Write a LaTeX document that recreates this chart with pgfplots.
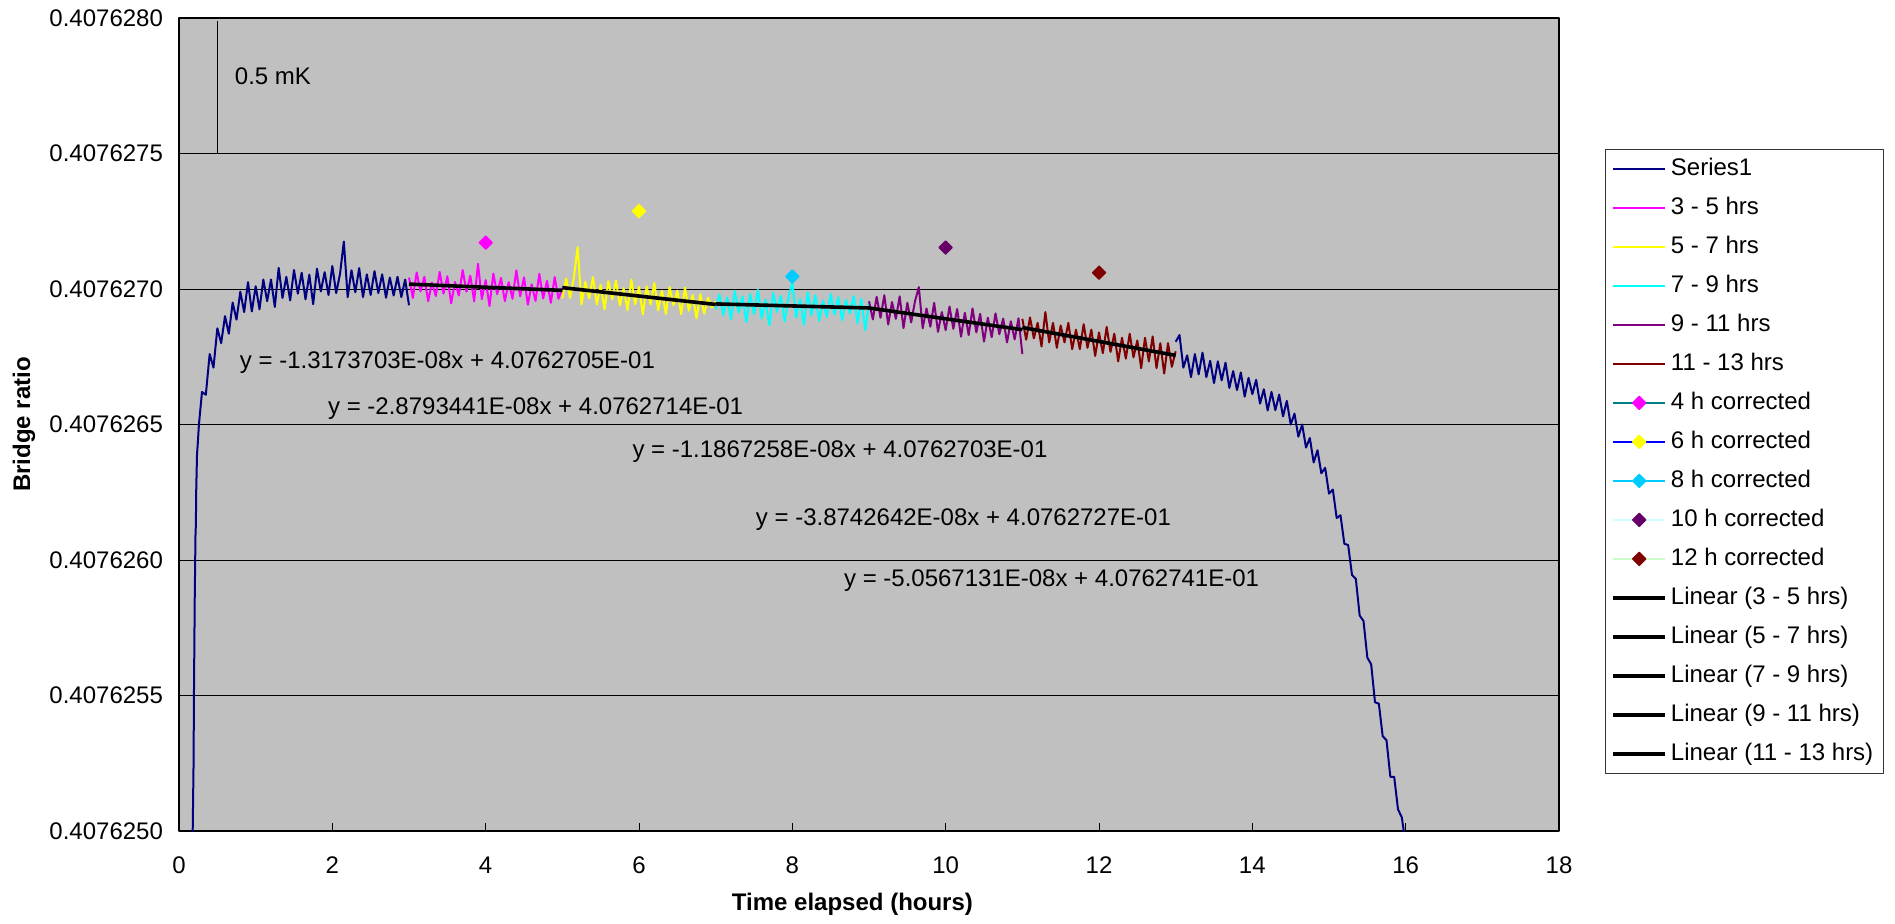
\documentclass[border=0pt]{standalone}
\usepackage{fontspec}
\setmainfont{Liberation Sans}
\usepackage{pgfplots}
\pgfplotsset{compat=1.18}
\definecolor{plotgray}{RGB}{192,192,192}
\definecolor{sNavy}{RGB}{0,0,128}
\definecolor{sMag}{RGB}{255,0,255}
\definecolor{sYel}{RGB}{255,255,0}
\definecolor{sCya}{RGB}{0,255,255}
\definecolor{sPur}{RGB}{128,0,128}
\definecolor{sRed}{RGB}{128,0,0}
\definecolor{lTeal}{RGB}{0,128,128}
\definecolor{lBlue}{RGB}{0,0,255}
\definecolor{lSky}{RGB}{0,204,255}
\definecolor{lLCyan}{RGB}{204,255,255}
\definecolor{lLGreen}{RGB}{204,255,204}
\definecolor{mDPur}{RGB}{102,0,102}

\begin{document}
% y values in units of 1e-7 above 0.4076250 (bridge ratio)
\begin{tikzpicture}[font=\fontsize{12}{14.4}\selectfont]
\useasboundingbox (-89.5pt,-46pt) rectangle (858pt,415.5pt);
\begin{axis}[
  at={(0,0)}, anchor=south west,
  scale only axis, width=690pt, height=406.5pt,
  xmin=0, xmax=18, ymin=0, ymax=30,
  xtick={0,2,...,18},
  ytick={0,5,...,30},
  yticklabels={0.4076250,0.4076255,0.4076260,0.4076265,0.4076270,0.4076275,0.4076280},
  /pgf/number format/assume math mode=true,
  tick align=inside, major tick length=4pt,
  xtick pos=bottom, ytick pos=left,
  tick style={black, line width=0.5pt},
  ymajorgrids, major grid style={black, line width=0.5pt},
  axis line style={black, line width=0.6pt},
  axis background/.style={fill=plotgray},
  xticklabel style={anchor=center, yshift=-17pt},
  yticklabel style={anchor=east, xshift=-4.5pt},
  xlabel={\bfseries Time elapsed (hours)},
  ylabel={\bfseries Bridge ratio},
  xlabel style={at={(axis description cs:0.488,-0.0898)}, anchor=center},
  ylabel style={at={(axis description cs:-0.1123,0.5)}, anchor=center},
  legend cell align=left,
  legend style={at={(1.0333,0.8389)}, anchor=north west, draw=black!80,
    fill=white, inner xsep=3pt, inner ysep=2pt,
    row sep=4pt,
    nodes={inner sep=2pt, text height=9pt, text depth=2.5pt}},
  legend image code/.code={\draw[mark repeat=2,mark phase=2,#1]
    plot coordinates {(0pt,0pt) (13pt,0pt) (26pt,0pt)};},
  line join=round,
]
% Series1 (rise 0-3 h, then fall 13-16 h)
\addplot[sNavy, line width=1pt, unbounded coords=jump] coordinates {
(0.17,-2)(0.19,2.5)(0.195,5.0)(0.205,8.5)(0.215,10.9)(0.22,11.3)(0.225,12.6)
(0.235,13.9)(0.245,14.3)(0.26,15.0)(0.28,15.6)
(0.30,16.20)(0.35,16.10)(0.40,17.60)(0.45,17.10)(0.50,18.55)(0.55,18.00)
(0.60,19.00)(0.65,18.35)(0.70,19.50)(0.75,18.87)(0.80,19.90)(0.85,19.15)
(0.90,20.25)(0.95,19.17)(1.00,20.10)(1.05,19.25)(1.10,20.35)(1.15,19.55)
(1.20,20.35)(1.25,19.34)(1.30,20.78)(1.35,19.67)(1.40,20.45)(1.45,19.58)
(1.50,20.70)(1.55,19.83)(1.60,20.60)(1.65,19.62)(1.70,20.53)(1.75,19.44)
(1.80,20.75)(1.85,19.91)(1.90,20.62)(1.95,19.78)(2.00,20.85)(2.05,19.85)
(2.10,20.55)(2.15,21.75)(2.20,19.70)(2.25,20.69)(2.30,19.88)(2.35,20.77)
(2.40,19.70)(2.45,20.54)(2.50,19.78)(2.55,20.66)(2.60,19.85)(2.65,20.54)
(2.70,19.68)(2.75,20.42)(2.80,19.76)(2.85,20.45)(2.90,19.70)(2.95,20.35)
(3.00,19.40)(3.02,nan)
(13.00,18.05)(13.05,18.30)(13.10,17.10)(13.15,17.55)(13.20,16.75)(13.25,17.60)
(13.30,16.85)(13.35,17.65)(13.40,16.75)(13.45,17.35)(13.50,16.53)(13.55,17.33)
(13.60,16.63)(13.65,17.28)(13.70,16.35)(13.75,16.97)(13.80,16.27)(13.85,16.92)
(13.90,16.03)(13.95,16.72)(14.00,16.12)(14.05,16.65)(14.10,15.77)(14.15,16.30)
(14.20,15.52)(14.25,16.20)(14.30,15.53)(14.35,16.10)(14.40,15.30)(14.45,15.87)
(14.50,15.00)(14.55,15.40)(14.60,14.55)(14.65,15.00)(14.70,14.15)(14.75,14.50)
(14.80,13.60)(14.85,14.05)(14.90,13.20)(14.95,13.40)(15.00,12.45)(15.05,12.60)
(15.10,11.55)(15.15,11.65)(15.20,10.60)(15.25,10.55)(15.30,9.45)(15.35,9.30)
(15.40,7.95)(15.45,7.75)(15.50,6.40)(15.55,6.15)(15.60,4.75)(15.65,4.70)
(15.70,3.50)(15.75,3.35)(15.80,2.00)(15.85,2.00)(15.90,0.80)(15.95,0.50)
(16.00,-0.5)};
\addlegendentry{Series1}
% 3 - 5 hrs
\addplot[sMag, line width=1pt] coordinates {
(3.00,20.42)(3.05,19.67)(3.10,20.61)(3.15,19.91)(3.20,20.45)(3.25,19.55)
(3.30,20.24)(3.35,19.74)(3.40,20.63)(3.45,19.83)(3.50,20.47)(3.55,19.47)
(3.60,20.26)(3.65,19.76)(3.70,20.70)(3.75,19.90)(3.80,20.49)(3.85,19.54)
(3.90,20.93)(3.95,19.63)(4.00,20.33)(4.05,19.37)(4.10,20.57)(4.15,19.81)
(4.20,20.41)(4.25,19.55)(4.30,20.25)(4.35,19.64)(4.40,20.69)(4.45,19.73)
(4.50,20.43)(4.55,19.42)(4.60,20.17)(4.65,19.56)(4.70,20.56)(4.75,19.65)
(4.80,20.30)(4.85,19.49)(4.90,20.44)(4.95,19.64)(5.00,20.04)};
\addlegendentry{3 - 5 hrs}
% 5 - 7 hrs
\addplot[sYel, line width=1pt] coordinates {
(5.00,19.65)(5.05,20.39)(5.10,19.67)(5.15,20.41)(5.20,21.55)(5.25,19.43)
(5.30,20.27)(5.35,19.65)(5.40,20.44)(5.45,19.43)(5.50,20.16)(5.55,19.25)
(5.60,20.29)(5.65,19.62)(5.70,20.31)(5.75,19.39)(5.80,20.03)(5.85,19.22)
(5.90,20.35)(5.95,19.44)(6.00,20.08)(6.05,19.06)(6.10,20.10)(6.15,19.43)
(6.20,20.22)(6.25,19.21)(6.30,19.94)(6.35,19.08)(6.40,20.07)(6.45,19.40)
(6.50,19.94)(6.55,19.07)(6.60,20.06)(6.65,19.20)(6.70,19.78)(6.75,18.92)
(6.80,19.81)(6.85,19.09)(6.90,19.68)(6.95,19.31)(7.00,19.55)};
\addlegendentry{5 - 7 hrs}
% 7 - 9 hrs
\addplot[sCya, line width=1pt] coordinates {
(7.00,19.25)(7.05,19.80)(7.10,19.04)(7.15,19.69)(7.20,18.89)(7.25,19.94)
(7.30,19.13)(7.35,19.73)(7.40,18.78)(7.45,19.82)(7.50,19.07)(7.55,19.97)
(7.60,18.91)(7.65,19.61)(7.70,18.66)(7.75,19.86)(7.80,19.15)(7.85,19.75)
(7.90,18.80)(7.95,19.69)(8.00,20.24)(8.05,18.94)(8.10,19.63)(8.15,18.68)
(8.20,19.88)(8.25,19.03)(8.30,19.77)(8.35,18.82)(8.40,19.57)(8.45,18.96)
(8.50,19.81)(8.55,19.06)(8.60,19.70)(8.65,18.85)(8.70,19.60)(8.75,19.10)
(8.80,19.74)(8.85,18.74)(8.90,19.64)(8.95,18.48)(9.00,19.48)};
\addlegendentry{7 - 9 hrs}
% 9 - 11 hrs
\addplot[sPur, line width=1pt] coordinates {
(9.00,19.55)(9.05,18.88)(9.10,19.71)(9.15,18.94)(9.20,19.77)(9.25,18.69)
(9.30,19.52)(9.35,18.90)(9.40,19.73)(9.45,18.56)(9.50,19.49)(9.55,18.77)
(9.60,19.55)(9.65,20.07)(9.70,18.55)(9.75,19.28)(9.80,18.61)(9.85,19.49)
(9.90,18.42)(9.95,19.15)(10.00,18.48)(10.05,19.35)(10.10,18.53)(10.15,19.26)
(10.20,18.24)(10.25,19.12)(10.30,18.30)(10.35,19.28)(10.40,18.40)(10.45,19.08)
(10.50,18.06)(10.55,18.94)(10.60,18.22)(10.65,19.10)(10.70,18.33)(10.75,18.91)
(10.80,18.03)(10.85,18.81)(10.90,18.14)(10.95,18.92)(11.00,17.60)};
\addlegendentry{9 - 11 hrs}
% 11 - 13 hrs
\addplot[sRed, line width=1pt] coordinates {
(11.00,18.90)(11.05,18.13)(11.10,18.95)(11.15,18.18)(11.20,18.75)(11.25,17.88)
(11.30,19.15)(11.35,18.03)(11.40,18.75)(11.45,17.83)(11.50,18.65)(11.55,18.03)
(11.60,18.75)(11.65,17.78)(11.70,18.50)(11.75,17.78)(11.80,18.70)(11.85,17.83)
(11.90,18.50)(11.95,17.53)(12.00,18.40)(12.05,17.63)(12.10,18.60)(12.15,17.68)
(12.20,18.35)(12.25,17.33)(12.30,18.20)(12.35,17.43)(12.40,18.35)(12.45,17.48)
(12.50,18.10)(12.55,17.08)(12.60,18.20)(12.65,17.33)(12.70,18.25)(12.75,17.08)
(12.80,18.00)(12.85,16.88)(12.90,18.00)(12.95,17.13)(13.00,17.70)};
\addlegendentry{11 - 13 hrs}
% corrected points
\addplot[lTeal, line width=0.7pt, mark=square*, mark size=2.3pt,
  mark options={rotate=45, fill=sMag, draw=sMag}] coordinates {(4,21.71)};
\addlegendentry{4 h corrected}
\addplot[lBlue, line width=0.7pt, mark=square*, mark size=2.3pt,
  mark options={rotate=45, fill=sYel, draw=sYel}] coordinates {(6,22.87)};
\addlegendentry{6 h corrected}
\addplot[lSky, line width=0.7pt, mark=square*, mark size=2.3pt,
  mark options={rotate=45, fill=lSky, draw=lSky}] coordinates {(8,20.46)};
\addlegendentry{8 h corrected}
\addplot[lLCyan, line width=0.7pt, mark=square*, mark size=2.3pt,
  mark options={rotate=45, fill=mDPur, draw=mDPur}] coordinates {(10,21.53)};
\addlegendentry{10 h corrected}
\addplot[lLGreen, line width=0.7pt, mark=square*, mark size=2.3pt,
  mark options={rotate=45, fill=sRed, draw=sRed}] coordinates {(12,20.6)};
\addlegendentry{12 h corrected}
% linear fits
\addplot[black, line width=1.8pt] coordinates {(3,20.18)(5,19.95)};
\addlegendentry{Linear (3 - 5 hrs)}
\addplot[black, line width=1.8pt] coordinates {(5,20.05)(7,19.43)};
\addlegendentry{Linear (5 - 7 hrs)}
\addplot[black, line width=1.8pt] coordinates {(7,19.45)(9,19.30)};
\addlegendentry{Linear (7 - 9 hrs)}
\addplot[black, line width=1.8pt] coordinates {(9,19.30)(11,18.50)};
\addlegendentry{Linear (9 - 11 hrs)}
\addplot[black, line width=1.8pt] coordinates {(11,18.58)(13,17.55)};
\addlegendentry{Linear (11 - 13 hrs)}
% 0.5 mK scale bar
\addplot[black, line width=0.6pt, forget plot] coordinates {(0.5,25)(0.5,29.9)};
\node[anchor=west, inner sep=0pt] at (axis cs:0.725,27.86) {0.5 mK};
% trendline equations
\node[anchor=west, inner sep=0pt] at (axis cs:0.79,17.3) {y = -1.3173703E-08x + 4.0762705E-01};
\node[anchor=west, inner sep=0pt] at (axis cs:1.94,15.6) {y = -2.8793441E-08x + 4.0762714E-01};
\node[anchor=west, inner sep=0pt] at (axis cs:5.91,14.0) {y = -1.1867258E-08x + 4.0762703E-01};
\node[anchor=west, inner sep=0pt] at (axis cs:7.52,11.5) {y = -3.8742642E-08x + 4.0762727E-01};
\node[anchor=west, inner sep=0pt] at (axis cs:8.67,9.23) {y = -5.0567131E-08x + 4.0762741E-01};
\end{axis}
\end{tikzpicture}
\end{document}
